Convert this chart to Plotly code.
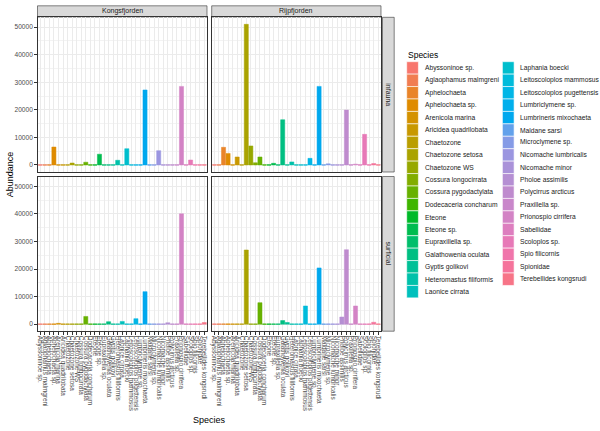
import math
import plotly.graph_objects as go

# ---------------- data ----------------
species = [
    "Abyssoninoe sp.", "Aglaophamus malmgreni", "Aphelochaeta", "Aphelochaeta sp.",
    "Arenicola marina", "Aricidea quadrilobata", "Chaetozone", "Chaetozone setosa",
    "Chaetozone WS", "Cossura longocirrata", "Cossura pygodactylata",
    "Dodecaceria concharum", "Eteone", "Eteone sp.", "Eupraxillella sp.",
    "Galathowenia oculata", "Gyptis golikovi", "Heteromastus filiformis",
    "Laonice cirrata", "Laphania boecki", "Leitoscoloplos mammosus",
    "Leitoscoloplos pugettensis", "Lumbriclymene sp.", "Lumbrineris mixochaeta",
    "Maldane sarsi", "Microclymene sp.", "Nicomache lumbricalis", "Nicomache minor",
    "Pholoe assimilis", "Polycirrus arcticus", "Praxillella sp.", "Prionospio cirrifera",
    "Sabellidae", "Scoloplos sp.", "Spio filicornis", "Spionidae", "Terebellides kongsrudi",
]

fjords = ["Kongsfjorden", "Rijpfjorden"]
habitats = ["infauna", "surficial"]

kongs_infauna   = [0, 0, 0, 6500, 0, 0, 0, 700, 0, 0, 1000, 0, 0, 3900, 0, 0, 0, 1700, 0, 5900, 0, 0, 0, 27200, 0, 0, 5200, 0, 0, 0, 0, 28500, 0, 1800, 0, 0, 0]
rijp_infauna    = [0, 0, 6400, 4200, 0, 2900, 0, 51000, 6900, 800, 2900, 0, 0, 600, 0, 16400, 0, 1100, 0, 0, 0, 2400, 0, 28500, 0, 400, 0, 0, 0, 19900, 0, 300, 0, 11100, 0, 500, 0]
kongs_surficial = [0, 0, 0, 0, 300, 0, 0, 0, 0, 0, 2800, 0, 0, 0, 0, 900, 0, 0, 1000, 0, 0, 2000, 0, 11800, 0, 0, 0, 0, 500, 0, 0, 40000, 0, 0, 0, 0, 600]
rijp_surficial  = [0, 0, 0, 0, 0, 0, 0, 26900, 0, 0, 7800, 0, 0, 0, 0, 1300, 600, 0, 0, 0, 6600, 0, 0, 20400, 0, 0, 0, 0, 2600, 27000, 0, 6600, 0, 0, 0, 700, 0]

y_ticks = [0, 10000, 20000, 30000, 40000, 50000]

panel_values = {
    (0, 0): kongs_infauna,
    (0, 1): rijp_infauna,
    (1, 0): kongs_surficial,
    (1, 1): rijp_surficial,
}

# ---------------- colours (hue palette, HCL) ----------------
def hcl_hex(h, c, l):
    Xn, Yn, Zn = 95.047, 100.000, 108.883
    hr = math.radians(h)
    U = c * math.cos(hr)
    V = c * math.sin(hr)
    Y = Yn * ((l + 16) / 116) ** 3 if l > 8 else Yn * l / 903.3
    den = Xn + 15 * Yn + 3 * Zn
    u0 = 4 * Xn / den
    v0 = 9 * Yn / den
    u = U / (13 * l) + u0
    v = V / (13 * l) + v0
    X = 9.0 * Y * u / (4 * v)
    Z = -X / 3 - 5 * Y + 3 * Y / v
    X, Y, Z = X / 100, Y / 100, Z / 100
    r = 3.240479 * X - 1.537150 * Y - 0.498535 * Z
    g = -0.969256 * X + 1.875992 * Y + 0.041556 * Z
    b = 0.055648 * X - 0.204043 * Y + 1.057311 * Z

    def gam(t):
        t = 12.92 * t if t <= 0.0031308 else 1.055 * max(t, 0) ** (1 / 2.4) - 0.055
        return max(0, min(255, int(round(t * 255))))

    return "#%02X%02X%02X" % (gam(r), gam(g), gam(b))


def chroma(h):
    # vivid in the warm/green range, softer in blue-purple-pink (as in the reference)
    hh = h if h >= 15 else h + 360
    if hh <= 200:
        return 100.0
    return 100.0 - 48.0 * math.sin(math.pi * (hh - 200) / 190.0) ** 2


n = len(species)
hues = [(15 + i * 360.0 / n) % 360 for i in range(n)]
colors = [hcl_hex(h, chroma(h), 65) for h in hues]

# ---------------- geometry ----------------
W, H = 600, 431
def pxx(x): return x / W
def pxy(y): return 1 - y / H

cols_px = [(37.5, 207.0), (211.7, 381.0)]
rows_px = [(17.3, 172.0), (176.5, 331.2)]
y_range = [-2550, 53550]

FONT = "Liberation Sans, Arial, sans-serif"
fig = go.Figure()
layout = {}
shapes = []
annotations = []

for r in range(2):
    for c in range(2):
        idx = r * 2 + c + 1
        sfx = "" if idx == 1 else str(idx)
        vals = panel_values[(r, c)]
        fig.add_trace(go.Bar(
            x=species, y=vals,
            marker=dict(color=colors, line=dict(color=colors, width=0.5)),
            width=0.9, xaxis="x" + sfx, yaxis="y" + sfx, showlegend=False,
            hovertemplate="%{x}: %{y}<extra></extra>",
        ))
        # zero-valued bars appear in ggplot as a coloured outline at 0
        for k, v in enumerate(vals):
            if v == 0:
                shapes.append(dict(type="line", xref="x" + sfx, yref="y" + sfx,
                                   x0=k - 0.45, x1=k + 0.45, y0=0, y1=0,
                                   line=dict(color=colors[k], width=0.8), layer="above"))
        x0, x1 = cols_px[c]
        yt, yb = rows_px[r]
        bottom = (r == 1)
        left = (c == 0)
        layout["xaxis" + sfx] = dict(
            domain=[pxx(x0), pxx(x1)], anchor="y" + sfx, type="category",
            categoryorder="array", categoryarray=species, range=[-0.6, n - 0.4],
            tickmode="array", tickvals=species, ticktext=species,
            showgrid=True, gridcolor="#EBEBEB", gridwidth=0.6,
            showline=True, mirror=True, linecolor="#333333", linewidth=0.6,
            ticks="outside" if bottom else "", ticklen=2.5, tickwidth=0.6, tickcolor="#333333",
            showticklabels=bottom, tickangle=90, automargin=False,
            tickfont=dict(family=FONT, size=6.4, color="#4D4D4D"),
            zeroline=False, fixedrange=True,
        )
        layout["yaxis" + sfx] = dict(
            domain=[pxy(yb), pxy(yt)], anchor="x" + sfx, range=y_range,
            tickmode="array", tickvals=y_ticks, ticktext=[str(t) for t in y_ticks],
            showgrid=True, gridcolor="#EBEBEB", gridwidth=0.6,
            minor=dict(dtick=5000, tick0=0, showgrid=True, gridcolor="#F3F3F3", gridwidth=0.4, ticks=""),
            showline=True, mirror=True, linecolor="#333333", linewidth=0.6,
            ticks="outside" if left else "", ticklen=2.5, tickwidth=0.6, tickcolor="#333333",
            showticklabels=left, automargin=False,
            tickfont=dict(family=FONT, size=6.6, color="#4D4D4D"),
            zeroline=False, fixedrange=True,
        )

# ---------------- strips ----------------
strip_top = (5.8, 17.1)
for c, name in enumerate(fjords):
    x0, x1 = cols_px[c]
    shapes.append(dict(type="rect", xref="paper", yref="paper",
                       x0=pxx(x0), x1=pxx(x1), y0=pxy(strip_top[1]), y1=pxy(strip_top[0]),
                       fillcolor="#D9D9D9", line=dict(color="#333333", width=0.6), layer="below"))
    annotations.append(dict(text=name, xref="paper", yref="paper",
                            x=pxx((x0 + x1) / 2), y=pxy(sum(strip_top) / 2),
                            showarrow=False, xanchor="center", yanchor="middle",
                            font=dict(family=FONT, size=7, color="#1A1A1A")))
strip_right = (382.5, 394.2)
for r, name in enumerate(habitats):
    yt, yb = rows_px[r]
    shapes.append(dict(type="rect", xref="paper", yref="paper",
                       x0=pxx(strip_right[0]), x1=pxx(strip_right[1]), y0=pxy(yb), y1=pxy(yt),
                       fillcolor="#D9D9D9", line=dict(color="#333333", width=0.6), layer="below"))
    annotations.append(dict(text=name, xref="paper", yref="paper",
                            x=pxx(sum(strip_right) / 2), y=pxy((yt + yb) / 2),
                            showarrow=False, xanchor="center", yanchor="middle", textangle=90,
                            font=dict(family=FONT, size=7, color="#1A1A1A")))

# ---------------- axis titles ----------------
annotations.append(dict(text="Abundance", xref="paper", yref="paper",
                        x=pxx(10), y=pxy((rows_px[0][0] + rows_px[1][1]) / 2),
                        showarrow=False, textangle=-90, xanchor="center", yanchor="middle",
                        font=dict(family=FONT, size=9, color="#000000")))
annotations.append(dict(text="Species", xref="paper", yref="paper",
                        x=pxx((cols_px[0][0] + cols_px[1][1]) / 2), y=pxy(420),
                        showarrow=False, xanchor="center", yanchor="middle",
                        font=dict(family=FONT, size=9, color="#000000")))

# ---------------- legend (two columns, drawn manually) ----------------
annotations.append(dict(text="Species", xref="paper", yref="paper",
                        x=pxx(406.0), y=pxy(54.5), showarrow=False,
                        xanchor="left", yanchor="middle",
                        font=dict(family=FONT, size=8.5, color="#000000")))
key_h = 12.43
key_w = 11.7
leg_top = 61.7
col_split = 19
leg_cols = [(406.7, 422.7), (502.4, 518.4)]
for i, sp in enumerate(species):
    ci = 0 if i < col_split else 1
    ri = i if i < col_split else i - col_split
    kx, tx = leg_cols[ci]
    y0 = leg_top + ri * key_h
    shapes.append(dict(type="rect", xref="paper", yref="paper",
                       x0=pxx(kx), x1=pxx(kx + key_w), y0=pxy(y0 + key_h), y1=pxy(y0),
                       fillcolor=colors[i], line=dict(color="#FFFFFF", width=0.6)))
    annotations.append(dict(text=sp, xref="paper", yref="paper",
                            x=pxx(tx), y=pxy(y0 + key_h / 2), showarrow=False,
                            xanchor="left", yanchor="middle",
                            font=dict(family=FONT, size=6.7, color="#1A1A1A")))

layout.update(dict(
    width=W, height=H, margin=dict(l=0, r=0, t=0, b=0, autoexpand=False),
    paper_bgcolor="white", plot_bgcolor="white",
    bargap=0.1, showlegend=False,
    shapes=shapes, annotations=annotations,
    font=dict(family=FONT),
))
fig.update_layout(**layout)
fig.write_html("out.html", config={"displayModeBar": False},
               post_script="document.body.style.margin='0px';document.body.style.padding='0px';")
